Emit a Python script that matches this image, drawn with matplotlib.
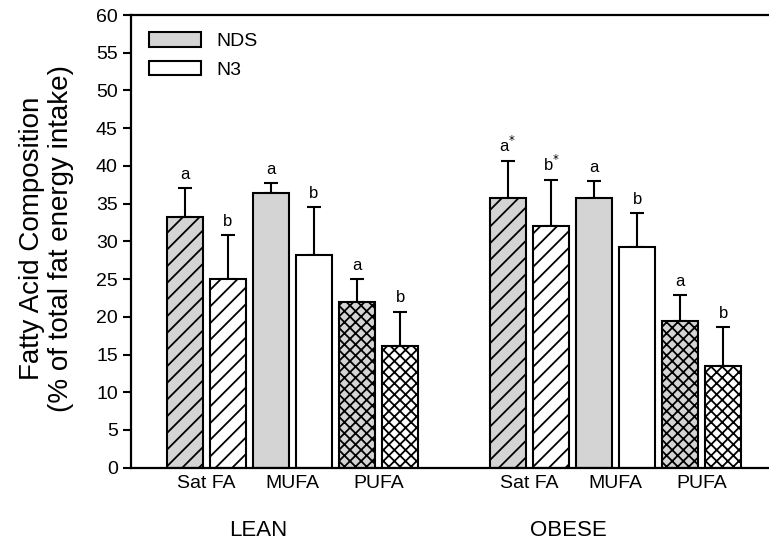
import numpy as np
import matplotlib
matplotlib.use("Agg")
import matplotlib.pyplot as plt
from matplotlib.patches import Patch

plt.rcParams['font.family'] = ['Liberation Sans', 'DejaVu Sans']
plt.rcParams['hatch.linewidth'] = 1.3

# values (% of total fat energy intake)
groups = ["LEAN", "OBESE"]
acids = ["Sat FA", "MUFA", "PUFA"]
diets = ["NDS", "N3"]

lean_nds = [33.2, 36.4, 21.9]
lean_nds_err = [3.9, 1.3, 3.1]
lean_n3 = [25.0, 28.2, 16.1]
lean_n3_err = [5.8, 6.4, 4.6]

obese_nds = [35.7, 35.8, 19.4]
obese_nds_err = [4.9, 2.2, 3.5]
obese_n3 = [32.1, 29.2, 13.5]
obese_n3_err = [6.0, 4.5, 5.1]

lean_letters_nds = ["a", "a", "a"]
lean_letters_n3 = ["b", "b", "b"]
obese_letters_nds = ["a$^{*}$", "a", "a"]
obese_letters_n3 = ["b$^{*}$", "b", "b"]

hatches = ["//", "", "xxx"]
nds_color = "#d4d4d4"
n3_color = "white"

fig = plt.figure(figsize=(7.69, 5.43), dpi=100)
ax = fig.add_axes([131 / 769, 1 - 467.7 / 543, 1 - 131 / 769, (467.7 - 15) / 543])

group_start = [0.0, 7.5]
width = 0.835

def draw_group(start, nds, nds_err, n3, n3_err, let_nds, let_n3):
    for i in range(3):
        for j, (vals, errs, lets, col) in enumerate(
                [(nds, nds_err, let_nds, nds_color),
                 (n3, n3_err, let_n3, n3_color)]):
            x = start + 2 * i + j
            ax.bar(x, vals[i], width=width, color=col, edgecolor='black',
                   linewidth=1.5, hatch=hatches[i], zorder=2)
            ax.errorbar(x, vals[i], yerr=[[0], [errs[i]]], fmt='none',
                        ecolor='black', elinewidth=1.5, capsize=5.2,
                        capthick=1.5, zorder=1)
            ax.text(x, vals[i] + errs[i] + 0.8, lets[i], ha='center',
                    va='bottom', fontsize=12)
        ax.text(start + 2 * i + 0.5, -1.0, acids[i], ha='center', va='top',
                fontsize=14)

draw_group(group_start[0], lean_nds, lean_nds_err, lean_n3, lean_n3_err,
           lean_letters_nds, lean_letters_n3)
draw_group(group_start[1], obese_nds, obese_nds_err, obese_n3, obese_n3_err,
           obese_letters_nds, obese_letters_n3)

ax.text(1.7, -8.3, groups[0], ha='center', va='center', fontsize=16)
ax.text(8.9, -8.3, groups[1], ha='center', va='center', fontsize=16)

ax.set_xlim(-1.246, 13.56)
ax.set_ylim(0, 60)
ax.set_yticks(np.arange(0, 61, 5))
ax.set_xticks([])
ax.tick_params(axis='y', direction='out', length=6, width=1.5, labelsize=14)
for s in ['left', 'top', 'bottom']:
    ax.spines[s].set_linewidth(1.6)
ax.spines['right'].set_visible(False)

fig.text(32 / 769, 1 - 238 / 543, "Fatty Acid Composition", rotation=90,
         ha='center', va='center', fontsize=20)
fig.text(61 / 769, 1 - 238 / 543, "(% of total fat energy intake)", rotation=90,
         ha='center', va='center', fontsize=20)

handles = [Patch(facecolor=nds_color, edgecolor='black', linewidth=1.5),
           Patch(facecolor=n3_color, edgecolor='black', linewidth=1.5)]
ax.legend(handles, diets, loc='upper left', bbox_to_anchor=(0.0, 1.0),
          frameon=False, fontsize=14, handlelength=2.7, handleheight=0.75,
          handletextpad=0.8, labelspacing=0.55, borderaxespad=0.5)

fig.savefig("out.png", dpi=100)
